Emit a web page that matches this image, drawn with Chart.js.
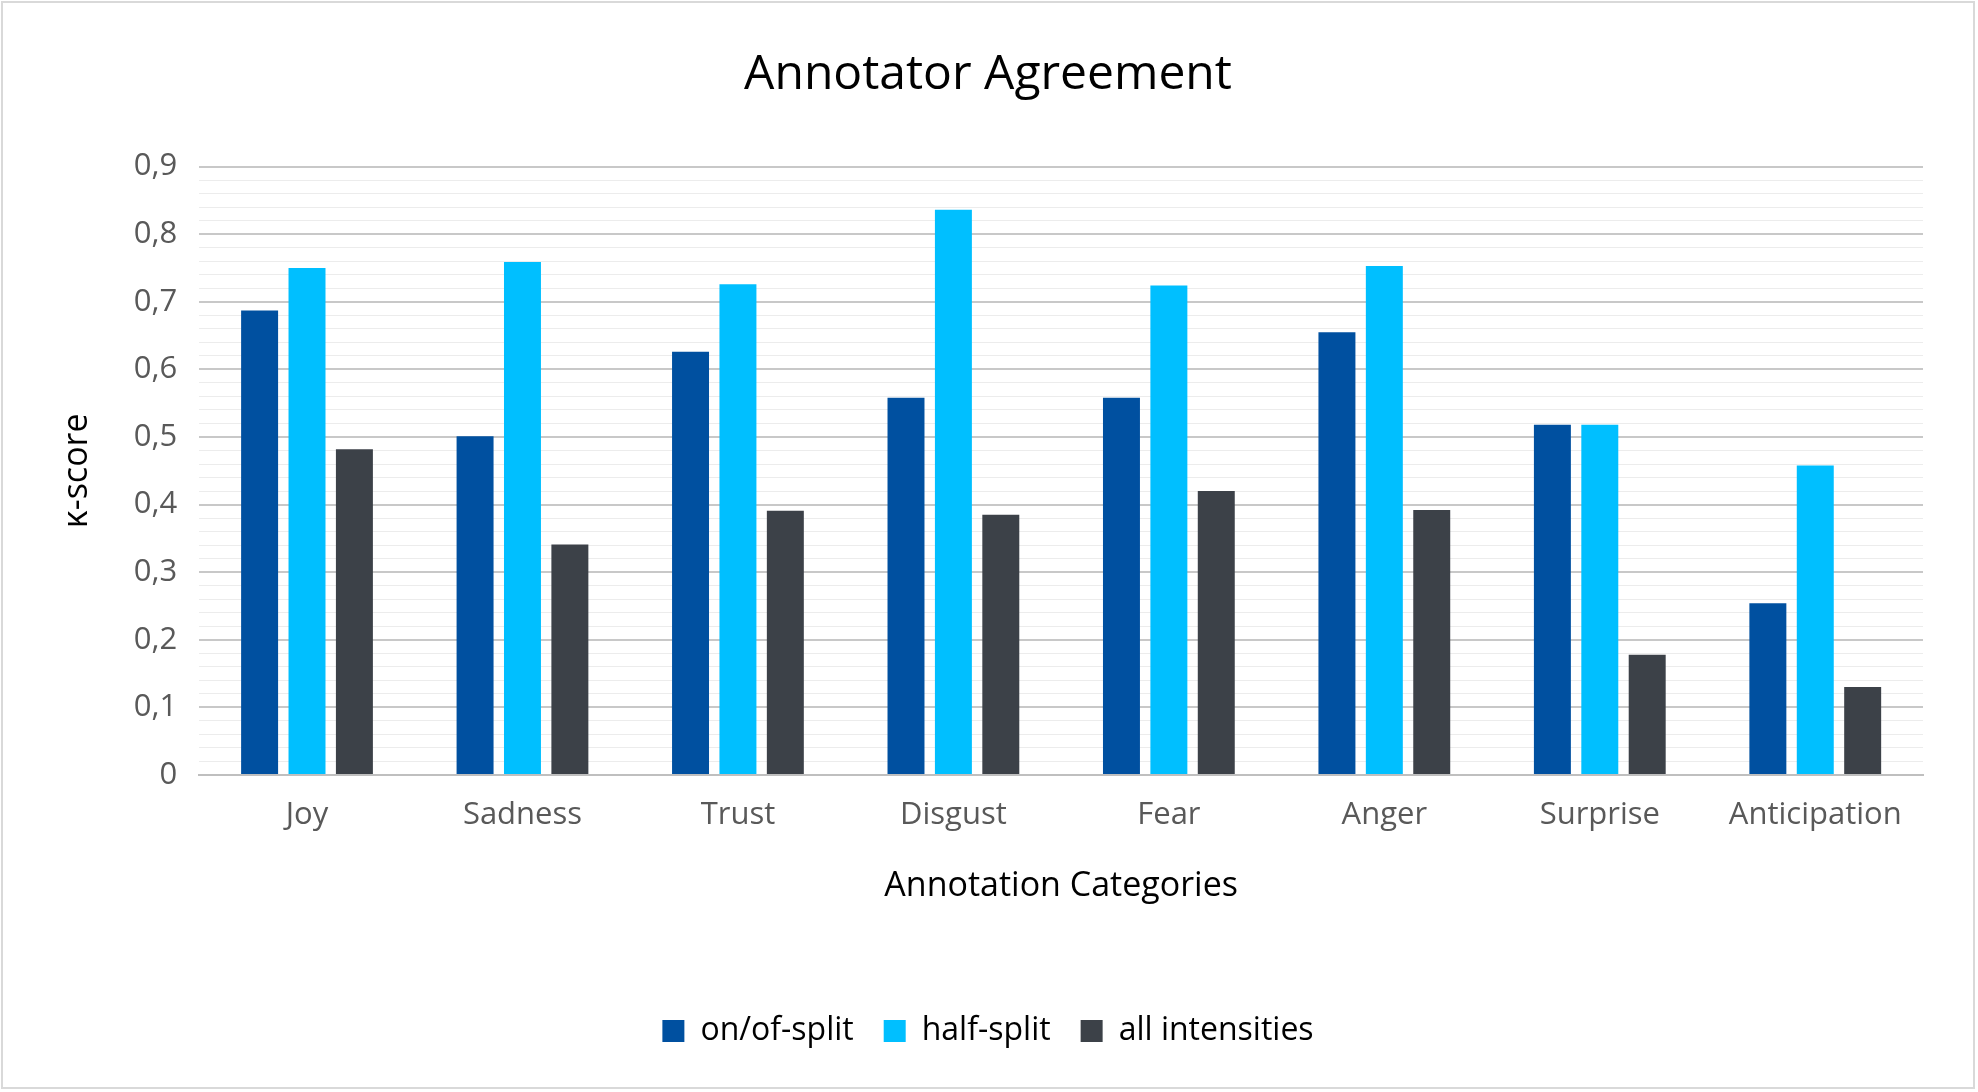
<!DOCTYPE html>
<html>
<head>
<meta charset="utf-8">
<script src="https://cdn.jsdelivr.net/npm/chart.js@4"></script>
<style>
  html, body { margin: 0; padding: 0; background: #fff; }
  #wrap { position: absolute; left: 1px; top: 1px; width: 1974px; height: 1088px; border: 2px solid #d9d9d9; box-sizing: border-box; }
</style>
</head>
<body>
<div id="wrap"><canvas id="barras"></canvas></div>
<script>
// Categorías y valores
var categorias = ["Joy", "Sadness", "Trust", "Disgust", "Fear", "Anger", "Surprise", "Anticipation"];
var onOfSplit = [0.687, 0.501, 0.626, 0.558, 0.558, 0.655, 0.518, 0.254];
var halfSplit = [0.750, 0.759, 0.726, 0.836, 0.724, 0.753, 0.518, 0.458];
var allIntensities = [0.482, 0.341, 0.391, 0.385, 0.420, 0.392, 0.178, 0.130];

var fuente = "'Open Sans', 'Liberation Sans', sans-serif";

function cargaGraficoBarras() {
    var datos = {
        labels: categorias,
        datasets: [
            { label: "on/of-split", backgroundColor: "#0050A0", data: onOfSplit },
            { label: "half-split", backgroundColor: "#00BFFF", data: halfSplit },
            { label: "all intensities", backgroundColor: "#3C4148", data: allIntensities }
        ]
    };

    var config = {
        type: "bar",
        data: datos,
        options: {
            responsive: true,
            maintainAspectRatio: false,
            animation: false,
            layout: { padding: { left: 50, right: 50, top: 24, bottom: 30 } },
            datasets: { bar: { categoryPercentage: 0.66, barPercentage: 0.78 } },
            plugins: {
                title: {
                    display: true,
                    text: "Annotator Agreement",
                    color: "#000",
                    font: { family: fuente, size: 48, weight: "normal" },
                    padding: { top: 20, bottom: 62 }
                },
                legend: {
                    position: "bottom",
                    labels: {
                        color: "#000",
                        font: { family: fuente, size: 32 },
                        boxWidth: 22, boxHeight: 22,
                        padding: 30
                    }
                },
                tooltip: { enabled: false }
            },
            scales: {
                x: {
                    grid: { display: false },
                    border: { color: "#bfbfbf", width: 2 },
                    ticks: { color: "#595959", font: { family: fuente, size: 31 }, padding: 14 },
                    title: {
                        display: true,
                        text: "Annotation Categories",
                        color: "#000",
                        font: { family: fuente, size: 34 },
                        padding: { top: 18, bottom: 78 }
                    }
                },
                y: {
                    min: 0,
                    max: 0.9,
                    border: { display: false },
                    grid: {
                        color: function (ctx) {
                            var v = Math.round(ctx.tick.value * 100);
                            return v % 10 === 0 ? "#c8c8c8" : "#ececec";
                        },
                        lineWidth: function (ctx) {
                            var v = Math.round(ctx.tick.value * 100);
                            return v % 10 === 0 ? 2 : 1;
                        },
                        drawTicks: false
                    },
                    ticks: {
                        stepSize: 0.02,
                        autoSkip: false,
                        color: "#595959",
                        font: { family: fuente, size: 31 },
                        padding: 22,
                        callback: function (value) {
                            var v = Math.round(value * 100);
                            if (v % 10 !== 0) return "";
                            return v === 0 ? "0" : (v / 100).toFixed(1).replace(".", ",");
                        }
                    },
                    title: {
                        display: true,
                        text: "κ-score",
                        color: "#000",
                        font: { family: fuente, size: 34 },
                        padding: { bottom: 14 }
                    }
                }
            }
        }
    };

    var grafico = document.getElementById("barras").getContext("2d");
    new Chart(grafico, config);
}

cargaGraficoBarras();
</script>
</body>
</html>
